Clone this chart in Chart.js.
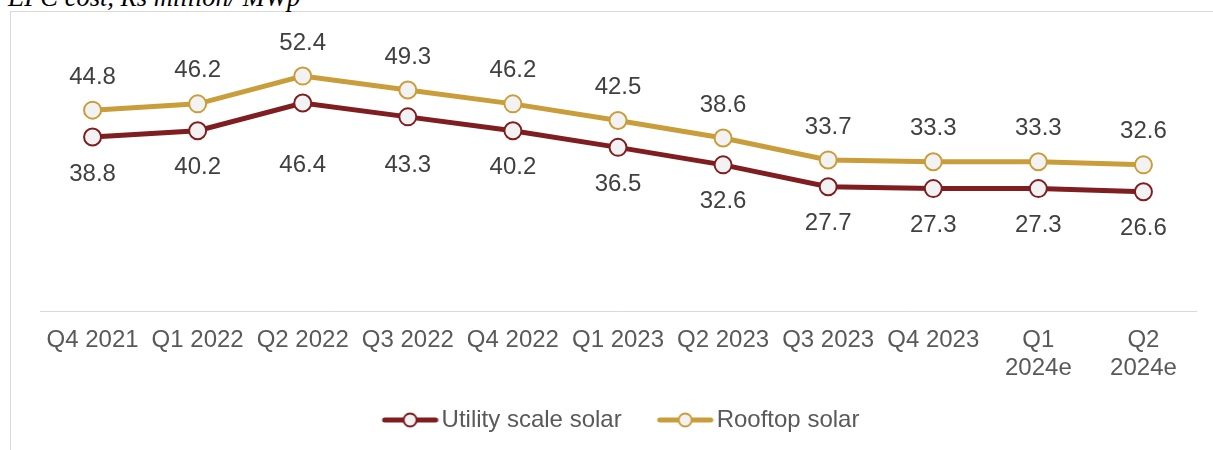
<!DOCTYPE html>
<html>
<head>
<meta charset="utf-8">
<script src="https://cdn.jsdelivr.net/npm/chart.js@4"></script>
<style>
  html, body { margin: 0; padding: 0; background: #ffffff; overflow: hidden; }
  #wrap { position: relative; width: 1213px; height: 450px; }
  #frame { position: absolute; left: 10px; top: 11px; width: 1300px; height: 500px;
           border-left: 1px solid #d9d9d9; border-top: 1px solid #d9d9d9; }
  #title { position: absolute; left: 8px; top: -14px; font-family: "Liberation Serif", "Times New Roman", serif;
           font-style: italic; font-size: 26.5px; line-height: 22px; color: #000; white-space: nowrap; }
  canvas { position: absolute; left: 0; top: 0; }
</style>
</head>
<body>
<div id="wrap">
  <div id="frame"></div>
  <div id="title">EPC cost, Rs million/ MWp</div>
  <canvas id="c" width="1213" height="450"></canvas>
</div>
<script>
const categories = ['Q4 2021', 'Q1 2022', 'Q2 2022', 'Q3 2022', 'Q4 2022', 'Q1 2023', 'Q2 2023', 'Q3 2023', 'Q4 2023', ['Q1', '2024e'], ['Q2', '2024e']];
const utilityScale = [38.8, 40.2, 46.4, 43.3, 40.2, 36.5, 32.6, 27.7, 27.3, 27.3, 26.6];
const rooftop = [44.8, 46.2, 52.4, 49.3, 46.2, 42.5, 38.6, 33.7, 33.3, 33.3, 32.6];
const seriesNames = ['Utility scale solar', 'Rooftop solar'];

const UTIL_COLOR = '#7f1d20';
const ROOF_COLOR = '#c99e3a';
const POINT_FILL = '#f2f2f2';
const FONT = '"Liberation Sans", Arial, sans-serif';

function legendMarker(color) {
  const cv = document.createElement('canvas');
  cv.width = 71; cv.height = 24;
  const g = cv.getContext('2d');
  g.strokeStyle = color; g.lineWidth = 5; g.lineCap = 'round';
  g.beginPath(); g.moveTo(17, 12); g.lineTo(68, 12); g.stroke();
  g.beginPath(); g.arc(42.5, 12, 6.5, 0, Math.PI * 2);
  g.fillStyle = POINT_FILL; g.fill();
  g.lineWidth = 2; g.strokeStyle = color; g.stroke();
  return cv;
}
const markers = [legendMarker(UTIL_COLOR), legendMarker(ROOF_COLOR)];

const valueLabels = {
  id: 'valueLabels',
  afterDatasetsDraw(chart) {
    const ctx = chart.ctx;
    const yScale = chart.scales.y;
    ctx.save();
    ctx.font = '24px ' + FONT;
    ctx.fillStyle = '#404040';
    ctx.textAlign = 'center';
    ctx.textBaseline = 'middle';
    chart.data.datasets.forEach((ds, di) => {
      const meta = chart.getDatasetMeta(di);
      meta.data.forEach((pt, i) => {
        const v = ds.data[i];
        let y;
        if (di === 1) {
          y = pt.y - 33;
        } else {
          y = Math.max(pt.y + 37, yScale.getPixelForValue(32.5));
        }
        ctx.fillText(v.toFixed(1), pt.x, y);
      });
    });
    ctx.restore();
  }
};

new Chart(document.getElementById('c'), {
  type: 'line',
  data: {
    labels: categories,
    datasets: [
      {
        label: seriesNames[0], data: utilityScale,
        borderColor: UTIL_COLOR, borderWidth: 5, tension: 0,
        pointRadius: 8.5, pointBorderWidth: 2, pointBackgroundColor: POINT_FILL, pointBorderColor: UTIL_COLOR
      },
      {
        label: seriesNames[1], data: rooftop,
        borderColor: ROOF_COLOR, borderWidth: 5, tension: 0,
        pointRadius: 8.5, pointBorderWidth: 2, pointBackgroundColor: POINT_FILL, pointBorderColor: ROOF_COLOR
      }
    ]
  },
  options: {
    responsive: false,
    animation: false,
    layout: { padding: { left: 40, right: 17, top: 42, bottom: 8 } },
    scales: {
      x: {
        offset: true,
        grid: { display: false, drawTicks: false },
        border: { display: true, color: '#d9d9d9', width: 1 },
        ticks: {
          autoSkip: false, maxRotation: 0, padding: 16,
          color: '#595959', font: { family: FONT, size: 24, lineHeight: 1.15 }
        },
        afterFit(scale) { scale.height = 67; }
      },
      y: { display: false, min: 0, max: 60 }
    },
    plugins: {
      tooltip: { enabled: false },
      legend: {
        position: 'bottom',
        labels: {
          usePointStyle: true,
          pointStyleWidth: 53,
          padding: 30,
          color: '#595959',
          font: { family: FONT, size: 24 },
          generateLabels(chart) {
            const items = Chart.defaults.plugins.legend.labels.generateLabels(chart);
            items.forEach((it, i) => { it.pointStyle = markers[i]; });
            return items;
          }
        }
      }
    }
  },
  plugins: [valueLabels]
});
</script>
</body>
</html>
